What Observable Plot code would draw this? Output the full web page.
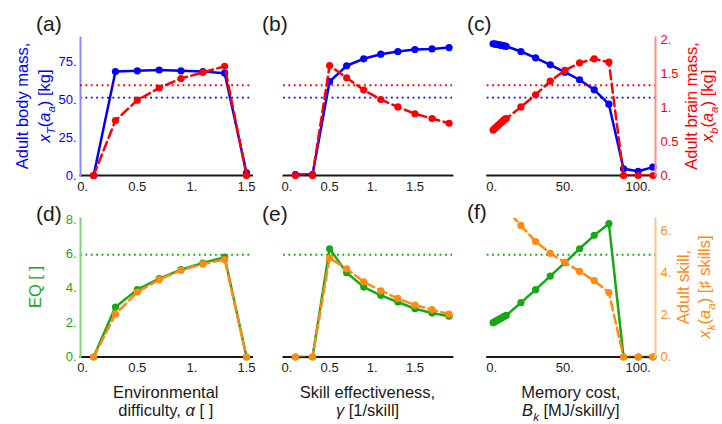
<!DOCTYPE html>
<html>
<head>
<meta charset="utf-8">
<script src="https://cdn.jsdelivr.net/npm/d3@7"></script>
<script src="https://cdn.jsdelivr.net/npm/@observablehq/plot@0.6"></script>
<style>
  body { margin: 0; background: #fff; }
  #fig { position: relative; width: 722px; height: 424px; font-family: "Liberation Sans", Arial, sans-serif; }
  #fig svg { position: absolute; left: 0; top: 0; overflow: visible; }
  #fig g[aria-label$="tick label"] { font-size: 13px; }
</style>
</head>
<body>
<div id="fig"></div>
<script>
// ---- parameter sweeps ----
const alpha = [0.1, 0.3, 0.5, 0.7, 0.9, 1.1, 1.3, 1.5];
const gamma = [0.1, 0.3, 0.5, 0.7, 0.9, 1.1, 1.3, 1.5, 1.7, 1.9];
const memCost = [1, 2, 3, 4, 5, 6, 7, 8, 9, 10, 20, 30, 40, 50, 60, 70, 80, 90, 100, 110];

// ---- adult body mass [kg] ----
const bodyAlpha = [0, 68.4, 68.9, 69.4, 68.9, 68.4, 67.3, 1.7];
const bodyGamma = [0.6, 0.6, 61.8, 72.2, 76.8, 79.8, 81.6, 82.9, 83.3, 84.2];
const bodyMem = [86.7, 86.5, 86.4, 86.2, 86.0, 85.8, 85.6, 85.4, 85.2, 85.0, 81.6, 77.4, 72.8, 68.0, 63.0, 56.4, 46.9, 4.4, 2.8, 5.5];

// ---- adult brain mass [kg] ----
const brainAlpha = [0, 0.81, 1.11, 1.29, 1.43, 1.52, 1.61, 0];
const brainGamma = [0, 0, 1.62, 1.44, 1.26, 1.12, 1.01, 0.91, 0.84, 0.77];
const brainMem = [0.67, 0.69, 0.71, 0.73, 0.75, 0.77, 0.79, 0.81, 0.83, 0.84, 1.01, 1.19, 1.39, 1.55, 1.66, 1.72, 1.67, 0, 0, 0];

// ---- encephalization quotient ----
const eqAlpha = [0, 2.91, 3.92, 4.56, 5.08, 5.47, 5.81, 0];
const eqGamma = [0, 0, 6.30, 4.91, 4.07, 3.59, 3.20, 2.81, 2.56, 2.37];
const eqMem = [2.0, 2.04, 2.09, 2.14, 2.19, 2.23, 2.28, 2.33, 2.38, 2.42, 3.16, 3.92, 4.71, 5.49, 6.30, 7.08, 7.76, 0, 0, 0];

// ---- adult skill [# skills] ----
const skillAlpha = [0, 2.03, 3.08, 3.67, 4.11, 4.41, 4.62, 0];
const skillGamma = [0, 0, 4.70, 4.18, 3.57, 3.14, 2.78, 2.46, 2.25, 2.03];
const skillMem = [7.70, 7.62, 7.55, 7.47, 7.40, 7.32, 7.25, 7.17, 7.10, 7.02, 6.24, 5.48, 4.92, 4.49, 4.06, 3.62, 3.06, 0, 0, 0];

// ---- modern human reference levels ----
const bodyRef = [51.3];
const brainRef = [1.33];
const eqRef = [5.95];

// ---- axis ticks ----
const ticksAlpha = [0, 0.5, 1, 1.5];
const ticksGamma = [0, 0.5, 1, 1.5];
const ticksMem = [0, 50, 100];
const ticksBody = [0, 25, 50, 75];
const ticksBrain = [0, 0.5, 1, 1.5, 2];
const ticksEQ = [0, 2, 4, 6, 8];
const ticksSkill = [0, 2, 4, 6];

// ---- styling ----
const W = 722, H = 424;
const BLUE = "#0000ff", RED = "#ff0000", GREEN = "#16a816", ORANGE = "#ff8a12";
const BLUE_AX = "#8a8aff", RED_AX = "#ff8a8a", GREEN_AX = "#80d080", ORANGE_AX = "#ffc486";
const INK = "#1a1a1a";
const bodyMax = 90.8, brainMax = 2.034, eqMax = 8.06, skillMax = 6.57;

const fmt = d => Number.isInteger(d) ? `${d}.` : `${d}`;
const rows = (xs, cols) => xs.map((x, i) => Object.fromEntries([["x", x], ...Object.entries(cols).map(([k, v]) => [k, v[i]])]));

const dataA = rows(alpha, {body: bodyAlpha, brain: brainAlpha, eq: eqAlpha, skill: skillAlpha});
const dataB = rows(gamma, {body: bodyGamma, brain: brainGamma, eq: eqGamma, skill: skillGamma});
const dataC = rows(memCost, {body: bodyMem, brain: brainMem, eq: eqMem, skill: skillMem});

// plot frames of the six panels, in page pixels
const colX = [[80, 251.5], [283, 452], [486.7, 655]];
const rowY = [[37, 175], [218, 356.5]];
const xDomains = [[-0.02, 1.55], [-0.04, 1.94], [-3, 111.8]];
const xTicks = [ticksAlpha, ticksGamma, ticksMem];
const datasets = [dataA, dataB, dataC];

const fig = document.getElementById("fig");

function layer(col, row, yDomain, marks) {
  const [x0, x1] = colX[col], [y0, y1] = rowY[row];
  const svg = Plot.plot({
    width: W, height: H,
    marginLeft: x0, marginRight: W - x1, marginTop: y0, marginBottom: H - y1,
    x: {domain: xDomains[col], axis: null},
    y: {domain: yDomain, axis: null},
    style: {background: "transparent", fontFamily: "Liberation Sans, Arial, sans-serif", overflow: "visible"},
    marks
  });
  fig.appendChild(svg);
}

const dotted = (data, color) => Plot.ruleY(data, {stroke: color, strokeWidth: 1.8, strokeDasharray: "1.8,3.6"});
const solidSeries = (data, key, color) => [
  Plot.line(data, {x: "x", y: key, stroke: color, strokeWidth: 2.5, strokeLinejoin: "round"}),
  Plot.dot(data, {x: "x", y: key, fill: color, r: 3.6})
];
const dashedSeries = (data, key, color, max) => [
  Plot.line(data, {x: "x", y: key, stroke: color, strokeWidth: 2.5, strokeDasharray: "9,4.5", clip: "frame"}),
  Plot.dot(data, {x: "x", y: key, fill: color, r: 3.6, filter: d => d[key] <= max})
];
const xAxis = col => [
  Plot.frame({anchor: "bottom", stroke: INK, strokeWidth: 2}),
  Plot.axisX({ticks: xTicks[col], tickFormat: fmt, tickSize: 0, tickPadding: 6, fill: INK, label: null})
];
const yAxis = (anchor, ticks, color, axisColor) => [
  Plot.frame({anchor, stroke: axisColor, strokeWidth: 2}),
  Plot.axisY({anchor, ticks, tickFormat: fmt, tickSize: 0, tickPadding: anchor === "left" ? 4 : 5, fill: color, label: null})
];

for (let col = 0; col < 3; col++) {
  const data = datasets[col];
  // top row: body mass (left scale) and brain mass (right scale)
  layer(col, 0, [0, bodyMax], [
    dotted(bodyRef, BLUE),
    ...solidSeries(data, "body", BLUE),
    ...xAxis(col),
    ...(col === 0 ? yAxis("left", ticksBody, BLUE, BLUE_AX) : [])
  ]);
  layer(col, 0, [0, brainMax], [
    dotted(brainRef, RED),
    ...dashedSeries(data, "brain", RED, brainMax),
    ...(col === 2 ? yAxis("right", ticksBrain, RED, RED_AX) : [])
  ]);
  // bottom row: EQ (left scale) and adult skill (right scale)
  layer(col, 1, [0, eqMax], [
    dotted(eqRef, GREEN),
    ...solidSeries(data, "eq", GREEN),
    ...xAxis(col),
    ...(col === 0 ? yAxis("left", ticksEQ, GREEN, GREEN_AX) : [])
  ]);
  layer(col, 1, [0, skillMax], [
    ...dashedSeries(data, "skill", ORANGE, skillMax),
    ...(col === 2 ? yAxis("right", ticksSkill, ORANGE, ORANGE_AX) : [])
  ]);
}

// ---- panel letters and axis titles ----
const ann = d3.select(fig).append("svg").attr("width", W).attr("height", H)
  .style("font-family", "Liberation Sans, Arial, sans-serif");

function label({x, y, rotate = 0, size = 16.5, fill = INK, parts}) {
  const t = ann.append("text")
    .attr("transform", `translate(${x},${y}) rotate(${rotate})`)
    .attr("text-anchor", "middle").attr("font-size", size).attr("fill", fill);
  let shifted = false;
  for (const [s, kind = ""] of parts) {
    const ts = t.append("tspan").text(s);
    if (kind.includes("i")) ts.attr("font-style", "italic");
    const sub = kind.includes("s");
    if (sub) ts.attr("font-size", size * 0.7);
    if (sub && !shifted) { ts.attr("dy", size * 0.28); shifted = true; }
    else if (!sub && shifted) { ts.attr("dy", -size * 0.28); shifted = false; }
  }
}

const letters = [["(a)", 36, 31], ["(b)", 262, 31], ["(c)", 467, 31], ["(d)", 36, 221], ["(e)", 262, 221], ["(f)", 467, 219]];
for (const [s, x, y] of letters)
  ann.append("text").attr("x", x).attr("y", y).attr("font-size", 21).attr("fill", INK).text(s);

// left title, body mass
label({x: 28, y: 106, rotate: -90, fill: BLUE, parts: [["Adult body mass,"]]});
label({x: 50, y: 106, rotate: -90, fill: BLUE, parts: [["x", "i"], ["T", "is"], ["("], ["a", "i"], ["a", "is"], [") [kg]"]]});
// right title, brain mass
label({x: 697, y: 106, rotate: -90, fill: RED, parts: [["Adult brain mass,"]]});
label({x: 713, y: 106, rotate: -90, fill: RED, parts: [["x", "i"], ["b", "is"], ["("], ["a", "i"], ["a", "is"], [") [kg]"]]});
// left title, EQ
label({x: 41, y: 287, rotate: -90, fill: GREEN, parts: [["EQ [ ]"]]});
// right title, skill
label({x: 689, y: 287, rotate: -90, fill: ORANGE, parts: [["Adult skill,"]]});
label({x: 710, y: 287, rotate: -90, fill: ORANGE, parts: [["x", "i"], ["k", "is"], ["("], ["a", "i"], ["a", "is"], [") [\u266F skills]"]]});
// x titles
const cx = c => (colX[c][0] + colX[c][1]) / 2;
label({x: cx(0), y: 398, parts: [["Environmental"]]});
label({x: cx(0), y: 416, parts: [["difficulty, "], ["\u03B1", "i"], [" [ ]"]]});
label({x: cx(1), y: 398, parts: [["Skill effectiveness,"]]});
label({x: cx(1), y: 416, parts: [["\u03B3", "i"], [" [1/skill]"]]});
label({x: cx(2), y: 398, parts: [["Memory cost,"]]});
label({x: cx(2), y: 416, parts: [["B", "i"], ["k", "is"], [" [MJ/skill/y]"]]});
</script>
</body>
</html>
